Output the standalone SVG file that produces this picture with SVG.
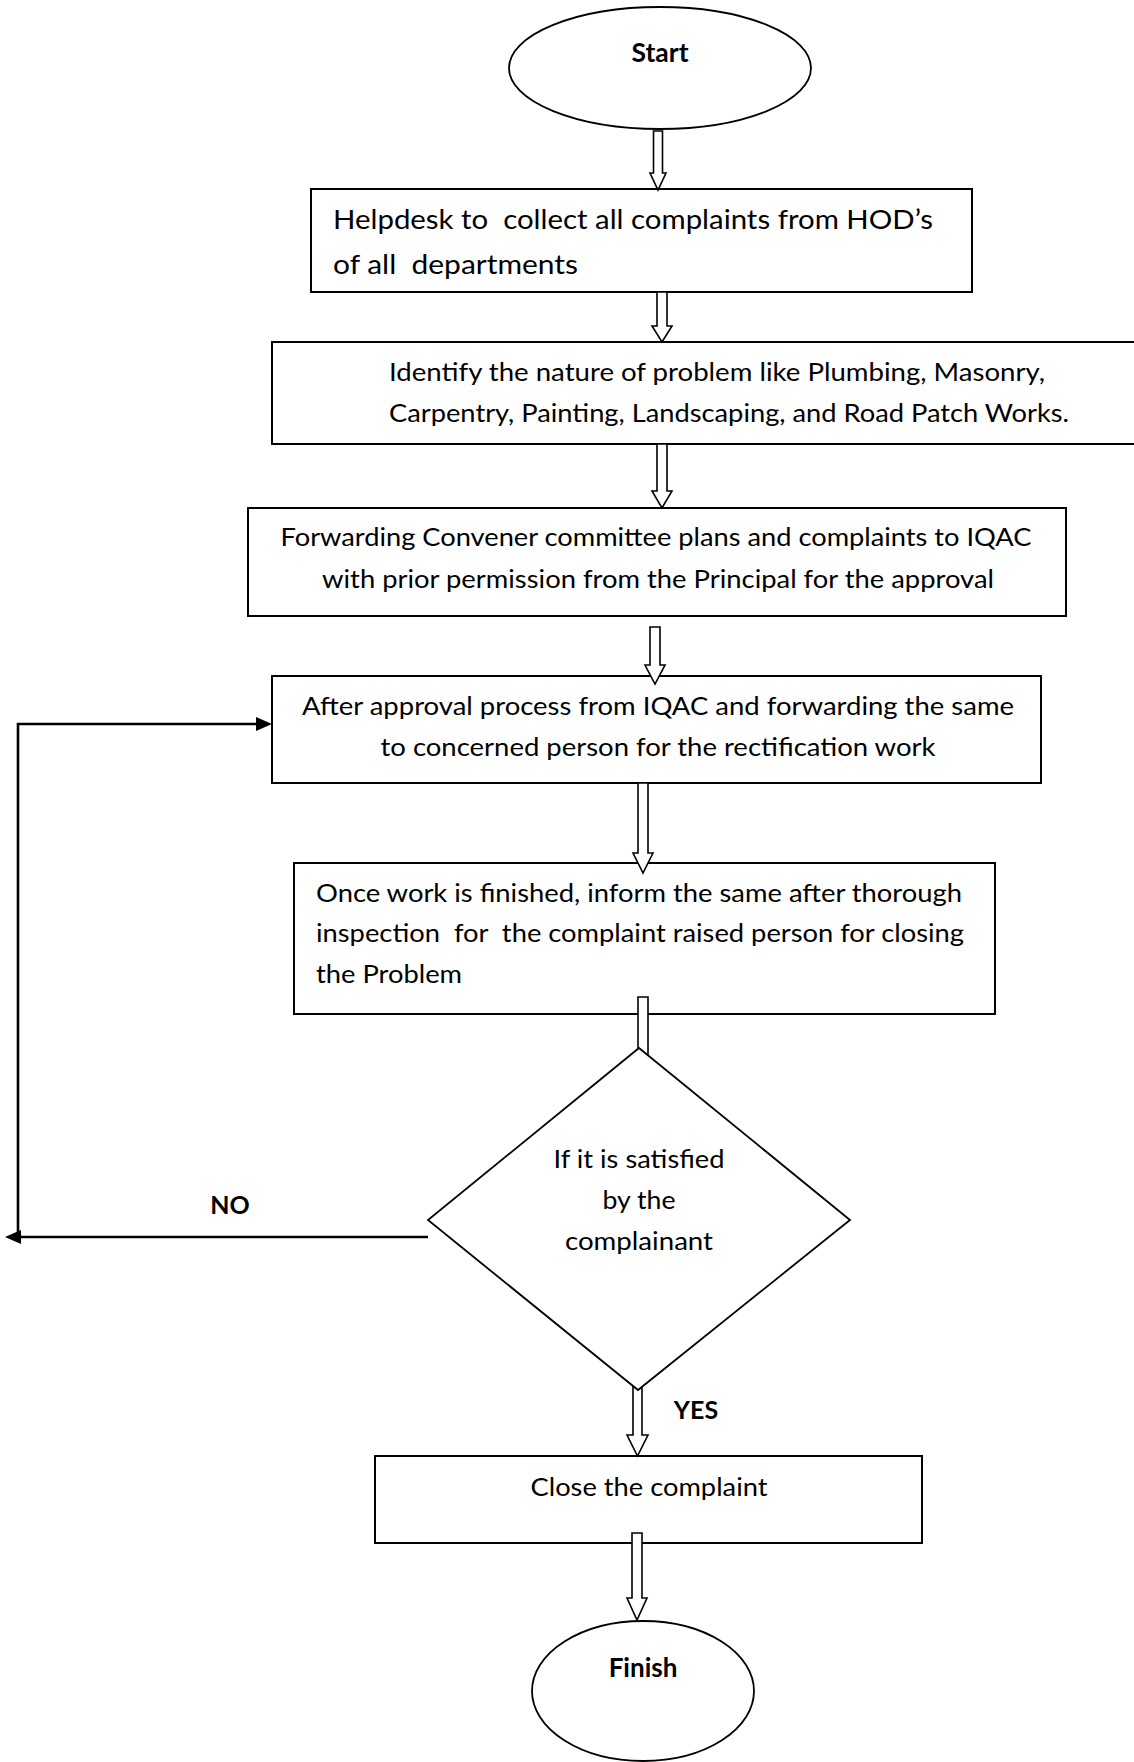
<svg xmlns="http://www.w3.org/2000/svg" width="1134" height="1762" viewBox="0 0 1134 1762">
<style>
  .box { fill: #fff; stroke: #000; stroke-width: 2; }
  .term { fill: #fff; stroke: #000; stroke-width: 1.8; }
  .dec { fill: #fff; stroke: #000; stroke-width: 1.8; }
  .harrow { fill: #fff; stroke: #000; stroke-width: 1.6; stroke-linejoin: miter; }
  .line { fill: none; stroke: #000; stroke-width: 2.6; }
  .t { font-family: Lato, "Liberation Sans", sans-serif; font-size: 25.5px; fill: #000; white-space: pre; }
  .t1 { font-size: 27.5px; }
  .b { font-family: Lato, "Liberation Sans", sans-serif; font-weight: bold; font-size: 25px; fill: #000; }
  .c { text-anchor: middle; }
</style>
<defs>
  <marker id="ah" markerUnits="userSpaceOnUse" markerWidth="16" markerHeight="14" refX="8" refY="7" orient="auto">
    <path d="M0 0 L16 7 L0 14 Z" fill="#000"/>
  </marker>
</defs>
<rect width="1134" height="1762" fill="#fff"/>

<g id="start">
  <ellipse class="term" cx="660" cy="68" rx="151" ry="61"/>
  <text class="b c" x="660" y="62" style="font-size:26.5px">Start</text>
</g>

<g id="helpdesk">
  <rect class="box" x="311" y="189" width="661" height="103"/>
  <text class="t t1" x="333" y="229" textLength="600" lengthAdjust="spacingAndGlyphs" xml:space="preserve">Helpdesk to  collect all complaints from HOD’s</text>
  <text class="t t1" x="333" y="274" textLength="245" lengthAdjust="spacingAndGlyphs" xml:space="preserve">of all  departments</text>
</g>

<g id="identify">
  <path class="box" d="M1136 342 H272 V444 H1136"/>
  <text class="t" x="389" y="381" textLength="656" lengthAdjust="spacingAndGlyphs">Identify the nature of problem like Plumbing, Masonry,</text>
  <text class="t" x="389" y="422" textLength="680" lengthAdjust="spacingAndGlyphs">Carpentry, Painting, Landscaping, and Road Patch Works.</text>
</g>

<g id="forwarding">
  <rect class="box" x="248" y="508" width="818" height="108"/>
  <text class="t c" x="656" y="546" textLength="751" lengthAdjust="spacingAndGlyphs">Forwarding Convener committee plans and complaints to IQAC</text>
  <text class="t c" x="658" y="588" textLength="672" lengthAdjust="spacingAndGlyphs">with prior permission from the Principal for the approval</text>
</g>

<g id="approval">
  <rect class="box" x="272" y="676" width="769" height="107"/>
  <text class="t c" x="658" y="715" textLength="712" lengthAdjust="spacingAndGlyphs">After approval process from IQAC and forwarding the same</text>
  <text class="t c" x="658" y="756" textLength="555" lengthAdjust="spacingAndGlyphs">to concerned person for the rectification work</text>
</g>

<g id="inform">
  <rect class="box" x="294" y="863" width="701" height="151"/>
  <text class="t" x="316" y="902" textLength="646" lengthAdjust="spacingAndGlyphs" xml:space="preserve">Once work is finished, inform the same after thorough</text>
  <text class="t" x="316" y="942" textLength="648" lengthAdjust="spacingAndGlyphs" xml:space="preserve">inspection  for  the complaint raised person for closing</text>
  <text class="t" x="316" y="983" textLength="146" lengthAdjust="spacingAndGlyphs">the Problem</text>
</g>

<g id="close">
  <rect class="box" x="375" y="1456" width="547" height="87"/>
  <text class="t c" x="649" y="1496" textLength="237" lengthAdjust="spacingAndGlyphs">Close the complaint</text>
</g>

<g id="finish">
  <ellipse class="term" cx="643" cy="1691" rx="111" ry="70"/>
  <text class="b c" x="643" y="1677" style="font-size:26px">Finish</text>
</g>

<g id="connectors">
  <path class="harrow" d="M653.5 131 V173 H650 L658 190 L666 173 H662.5 V131 Z"/>
  <path class="harrow" d="M657 292 V326 H652 L662 342 L672 326 H667 V292 Z"/>
  <path class="harrow" d="M657 444 V491 H652 L662 508 L672 491 H667 V444 Z"/>
  <path class="harrow" d="M650 627 V665 H645 L655 684 L665 665 H660 V627 Z"/>
  <path class="harrow" d="M638 783 V853 H633 L643 873 L653 853 H648 V783 Z"/>
  <path class="harrow" d="M638 997 V1070 H648 V997 Z"/>
  <path class="harrow" d="M633 1375 V1435 H627 L637.5 1456 L648 1435 H642 V1375 Z"/>
  <path class="harrow" d="M632 1533 V1598 H627 L637 1620 L647 1598 H642 V1533 Z"/>
  <path class="line" d="M428 1237 H13" marker-end="url(#ah)"/>
  <path class="line" d="M18 1237 V724 H264" marker-end="url(#ah)"/>
  <text class="b c" x="230" y="1214">NO</text>
  <text class="b c" x="696" y="1419">YES</text>
</g>

<g id="decision">
  <path class="dec" d="M639 1048 L850 1220 L638 1390 L428 1220 Z"/>
  <text class="t c" x="639" y="1168" textLength="171" lengthAdjust="spacingAndGlyphs">If it is satisfied</text>
  <text class="t c" x="639" y="1209" textLength="73" lengthAdjust="spacingAndGlyphs">by the</text>
  <text class="t c" x="639" y="1250" textLength="148" lengthAdjust="spacingAndGlyphs">complainant</text>
</g>
</svg>
